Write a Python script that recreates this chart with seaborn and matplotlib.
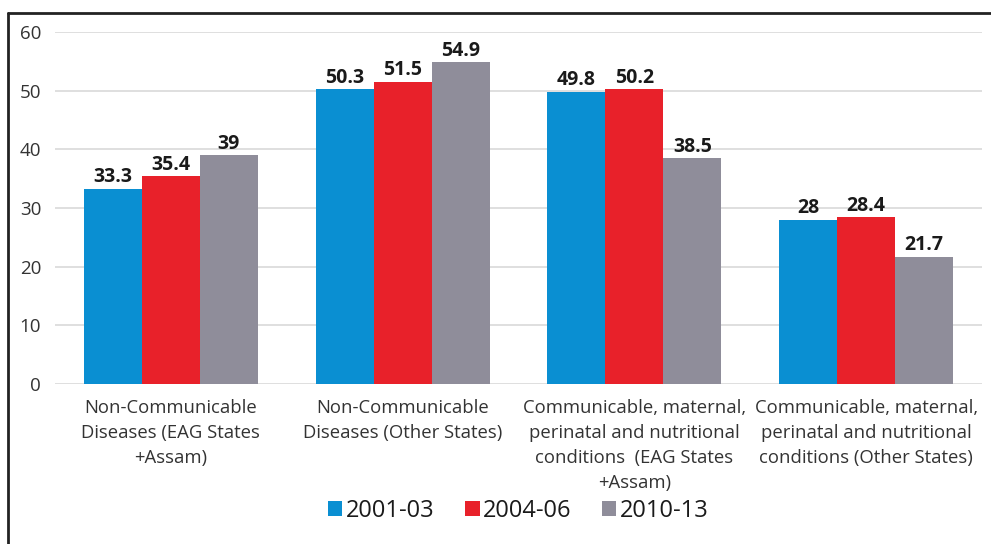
import pandas as pd
import matplotlib.pyplot as plt
import seaborn as sns
from matplotlib.lines import Line2D

categories = [
    "Non-Communicable\nDiseases (EAG States\n+Assam)",
    "Non-Communicable\nDiseases (Other States)",
    "Communicable, maternal,\nperinatal and nutritional\nconditions  (EAG States\n+Assam)",
    "Communicable, maternal,\nperinatal and nutritional\nconditions (Other States)",
]
periods = ["2001-03", "2004-06", "2010-13"]
v_2001 = [33.3, 50.3, 49.8, 28]
v_2004 = [35.4, 51.5, 50.2, 28.4]
v_2010 = [39, 54.9, 38.5, 21.7]
colors = ["#0a8fd2", "#e8212a", "#8f8d9a"]

df = pd.DataFrame({
    "category": categories * 3,
    "period": [p for p in periods for _ in categories],
    "value": v_2001 + v_2004 + v_2010,
})

sns.set_style("white")
plt.rcParams["font.family"] = ["Open Sans", "DejaVu Sans"]

fig = plt.figure(figsize=(9.91, 5.44), dpi=100)
ax = fig.add_axes([55 / 991, 1 - 384 / 544, (982 - 55) / 991, (384 - 32) / 544])

sns.barplot(data=df, x="category", y="value", hue="period", palette=colors,
            width=0.75, saturation=1, linewidth=0, ax=ax, zorder=3)

for cont in ax.containers:
    ax.bar_label(cont, fmt="%g", fontsize=14, fontweight="bold", color="#1a1a1a", padding=1)

ax.set_ylim(0, 60)
ax.set_xlim(-0.5, 3.5)
ax.set_yticks(range(0, 61, 10))
ax.yaxis.grid(True, color="#d9d9d9", linewidth=1.2, zorder=0)
for s in ax.spines.values():
    s.set_visible(False)
ax.set_xlabel("")
ax.set_ylabel("")
ax.tick_params(axis="x", labelsize=13.3, colors="#333333", length=0, pad=11)
ax.tick_params(axis="y", labelsize=13.5, colors="#333333", length=0, pad=10)
for t in ax.get_xticklabels():
    t.set_linespacing(1.5)

ax.legend(loc="center", bbox_to_anchor=(0.5, -0.36), ncol=3, frameon=False,
          fontsize=17, handlelength=0.6, handleheight=0.6, handletextpad=0.15,
          columnspacing=1.3, labelcolor="#1a1a1a")

fig.add_artist(Line2D([8 / 991, 8 / 991], [0, 1 - 13 / 544], color="#222222", lw=2))
fig.add_artist(Line2D([8 / 991, 1], [1 - 13 / 544, 1 - 13 / 544], color="#222222", lw=2))

fig.savefig("out.png", dpi=100)
